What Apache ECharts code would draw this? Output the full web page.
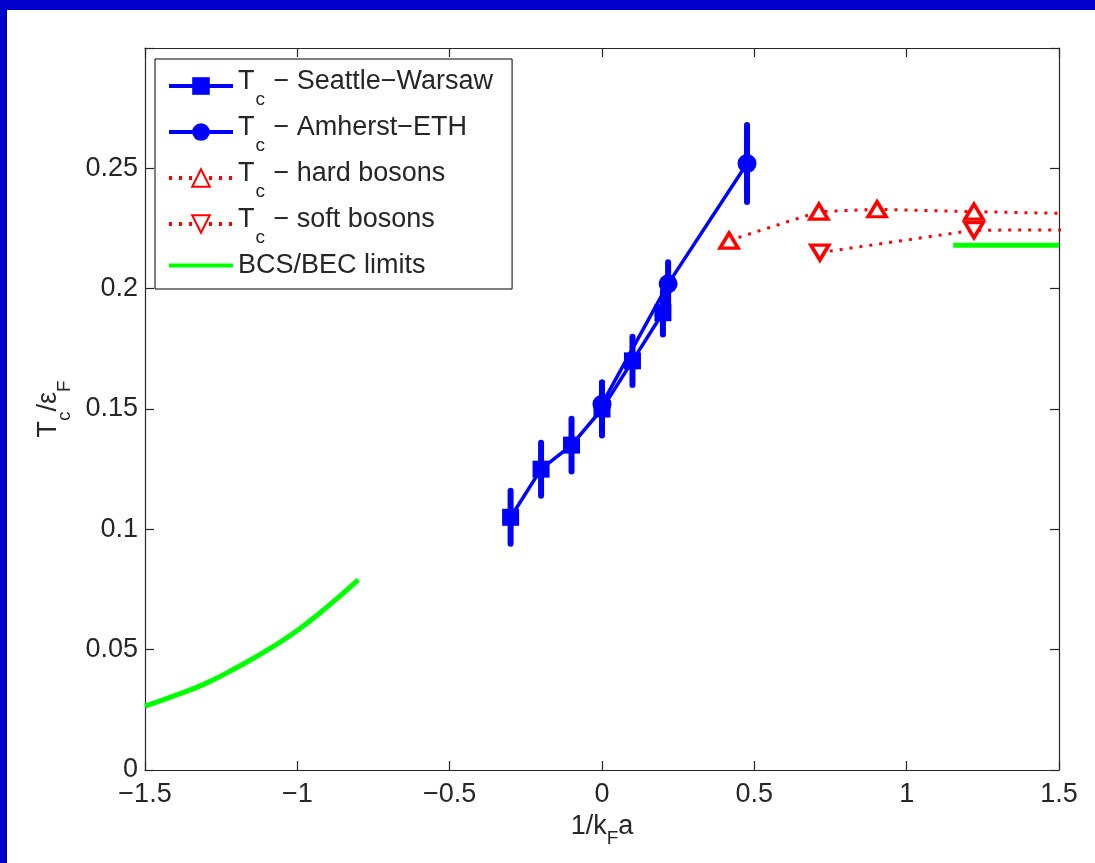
<!DOCTYPE html>
<html>
<head>
<meta charset="utf-8">
<script src="https://cdn.jsdelivr.net/npm/echarts@6/dist/echarts.min.js"></script>
<style>
  html, body { margin: 0; padding: 0; background: #fff; }
  #chart { position: absolute; left: 0; top: 0; width: 1095px; height: 863px; background: #fff; }
  .band { position: absolute; background: #0000cc; z-index: 5; }
</style>
</head>
<body>
<div id="chart"></div>
<div class="band" style="left:0;top:0;width:1095px;height:10px;"></div>
<div class="band" style="left:0;top:0;width:7px;height:863px;"></div>
<script>
// values
var swX = [-0.30, -0.20, -0.10, 0.00, 0.10, 0.20];
var swY = [0.105, 0.125, 0.135, 0.150, 0.170, 0.190];
var swErr = [0.011, 0.011, 0.011, 0.011, 0.010, 0.009];

var aeX = [0.00, 0.217, 0.476];
var aeY = [0.152, 0.202, 0.252];
var aeErr = [0.009, 0.009, 0.016];

var hardX = [0.417, 0.712, 0.903, 1.221, 1.90];
var hardY = [0.220, 0.232, 0.233, 0.232, 0.2303];

var softX = [0.715, 1.221, 1.90];
var softY = [0.215, 0.2243, 0.2245];

var bcsX = [-1.5, -1.4, -1.3, -1.2, -1.1, -1.0, -0.9, -0.8];
var bcsY = [0.0265, 0.031, 0.036, 0.0425, 0.0497, 0.058, 0.068, 0.079];

var becX = [1.153, 1.5];
var becY = [0.218, 0.218];

var xTicks = { min: -1.5, max: 1.5, interval: 0.5 };
var yTicks = { min: 0, max: 0.3, interval: 0.05 };

function pairs(xs, ys) {
    return xs.map(function (x, i) { return [x, ys[i]]; });
}
function errPairs(xs, ys, es) {
    return xs.map(function (x, i) { return [x, ys[i] - es[i], ys[i] + es[i]]; });
}

var FONT = '"Liberation Sans", Arial, sans-serif';
var INK = '#262626';
var FS = 27;

function errorBar(params, api) {
    var lo = api.coord([api.value(0), api.value(1)]);
    var hi = api.coord([api.value(0), api.value(2)]);
    return {
        type: 'line',
        shape: { x1: lo[0], y1: lo[1], x2: hi[0], y2: hi[1] },
        style: { stroke: '#0000ff', lineWidth: 6, lineCap: 'round' }
    };
}

function frameAxis(extra) {
    var a = {
        type: 'value',
        axisLine: { onZero: false, lineStyle: { color: INK, width: 1.2 } },
        axisTick: { inside: true, length: 9, lineStyle: { color: INK, width: 1.2 } },
        splitLine: { show: false }
    };
    for (var k in extra) a[k] = extra[k];
    return a;
}

var chart = echarts.init(document.getElementById('chart'));

var option = {
    backgroundColor: '#fff',
    animation: false,
    grid: { left: 145, right: 36, top: 48, bottom: 93 },
    legend: {
        orient: 'vertical',
        left: 155,
        top: 59,
        padding: [9, 19, 10, 12],
        itemGap: 5,
        itemWidth: 64,
        itemHeight: 22,
        borderColor: '#000',
        borderWidth: 1,
        backgroundColor: '#fff',
        lineStyle: { width: 4 },
        data: [
            'Tc − Seattle−Warsaw',
            'Tc − Amherst−ETH',
            'Tc − hard bosons',
            'Tc − soft bosons',
            { name: 'BCS/BEC limits', itemStyle: { opacity: 0 } }
        ],
        formatter: function (name) {
            if (name.indexOf('Tc') === 0) {
                return '{t|T}{s|c}{t|' + name.slice(2) + '}';
            }
            return '{b|' + name + '}';
        },
        textStyle: {
            fontFamily: FONT,
            color: INK,
            rich: {
                t: { fontFamily: FONT, fontSize: FS, color: INK, lineHeight: 36, verticalAlign: 'top' },
                s: { fontFamily: FONT, fontSize: 19, color: INK, lineHeight: 20, padding: [22, 1, 0, 1], verticalAlign: 'top' },
                b: { fontFamily: FONT, fontSize: FS, color: INK, lineHeight: 26 }
            }
        }
    },
    xAxis: [
        frameAxis({
            min: xTicks.min, max: xTicks.max, interval: xTicks.interval,
            name: '{n|1/k}{s|F}{n|a}',
            nameLocation: 'middle',
            nameGap: 40,
            nameTextStyle: {
                rich: {
                    n: { fontFamily: FONT, fontSize: FS, color: INK, lineHeight: 27, verticalAlign: 'top' },
                    s: { fontFamily: FONT, fontSize: 19, color: INK, lineHeight: 20, padding: [16, 0, 0, 0], verticalAlign: 'top' }
                }
            },
            axisLabel: {
                fontFamily: FONT, fontSize: FS, color: INK, margin: 11,
                formatter: function (v) { return String(v).replace('-', '−'); }
            }
        }),
        frameAxis({
            position: 'top',
            min: xTicks.min, max: xTicks.max, interval: xTicks.interval,
            axisLabel: { show: false }
        })
    ],
    yAxis: [
        frameAxis({
            min: yTicks.min, max: yTicks.max, interval: yTicks.interval,
            name: '{n|T}{s|c}{n|/ε}{s|F}',
            nameLocation: 'middle',
            nameGap: 83,
            nameRotate: 90,
            nameTextStyle: {
                rich: {
                    n: { fontFamily: FONT, fontSize: FS, color: INK, lineHeight: 27, verticalAlign: 'top' },
                    s: { fontFamily: FONT, fontSize: 19, color: INK, lineHeight: 20, padding: [20, 0, 0, 0], verticalAlign: 'top' }
                }
            },
            axisLabel: {
                fontFamily: FONT, fontSize: FS, color: INK, margin: 7,
                formatter: function (v) { return v > 0.29 ? '' : String(v); }
            }
        }),
        frameAxis({
            position: 'right',
            min: yTicks.min, max: yTicks.max, interval: yTicks.interval,
            axisLabel: { show: false }
        })
    ],
    series: [
        {
            name: 'BCS/BEC limits',
            type: 'line',
            data: pairs(bcsX, bcsY),
            smooth: true,
            symbol: 'none',
            color: '#00ff00',
            lineStyle: { color: '#00ff00', width: 5 }
        },
        {
            name: 'BCS/BEC limits',
            type: 'line',
            data: pairs(becX, becY),
            symbol: 'none',
            color: '#00ff00',
            lineStyle: { color: '#00ff00', width: 5 }
        },
        {
            name: 'Tc − hard bosons',
            type: 'line',
            data: pairs(hardX, hardY),
            symbol: 'triangle',
            symbolSize: [18, 15],
            color: '#ff0000',
            itemStyle: { color: '#fff', borderColor: '#ff0000', borderWidth: 3.5 },
            lineStyle: { color: '#ff0000', width: 3, type: [3, 7] }
        },
        {
            name: 'Tc − soft bosons',
            type: 'line',
            data: pairs(softX, softY),
            symbol: 'triangle',
            symbolRotate: 180,
            symbolSize: [18, 15],
            color: '#ff0000',
            itemStyle: { color: '#fff', borderColor: '#ff0000', borderWidth: 3.5 },
            lineStyle: { color: '#ff0000', width: 3, type: [3, 7] }
        },
        {
            name: 'swErr',
            type: 'custom',
            renderItem: errorBar,
            data: errPairs(swX, swY, swErr),
            encode: { x: 0, y: [1, 2] },
            z: 3
        },
        {
            name: 'aeErr',
            type: 'custom',
            renderItem: errorBar,
            data: errPairs(aeX, aeY, aeErr),
            encode: { x: 0, y: [1, 2] },
            z: 3
        },
        {
            name: 'Tc − Seattle−Warsaw',
            type: 'line',
            data: pairs(swX, swY),
            symbol: 'rect',
            symbolSize: 17,
            color: '#0000ff',
            itemStyle: { color: '#0000ff' },
            lineStyle: { color: '#0000ff', width: 3.5 },
            z: 4
        },
        {
            name: 'Tc − Amherst−ETH',
            type: 'line',
            data: pairs(aeX, aeY),
            symbol: 'circle',
            symbolSize: 19,
            color: '#0000ff',
            itemStyle: { color: '#0000ff' },
            lineStyle: { color: '#0000ff', width: 3.5 },
            z: 4
        }
    ]
};

chart.setOption(option);
</script>
</body>
</html>
